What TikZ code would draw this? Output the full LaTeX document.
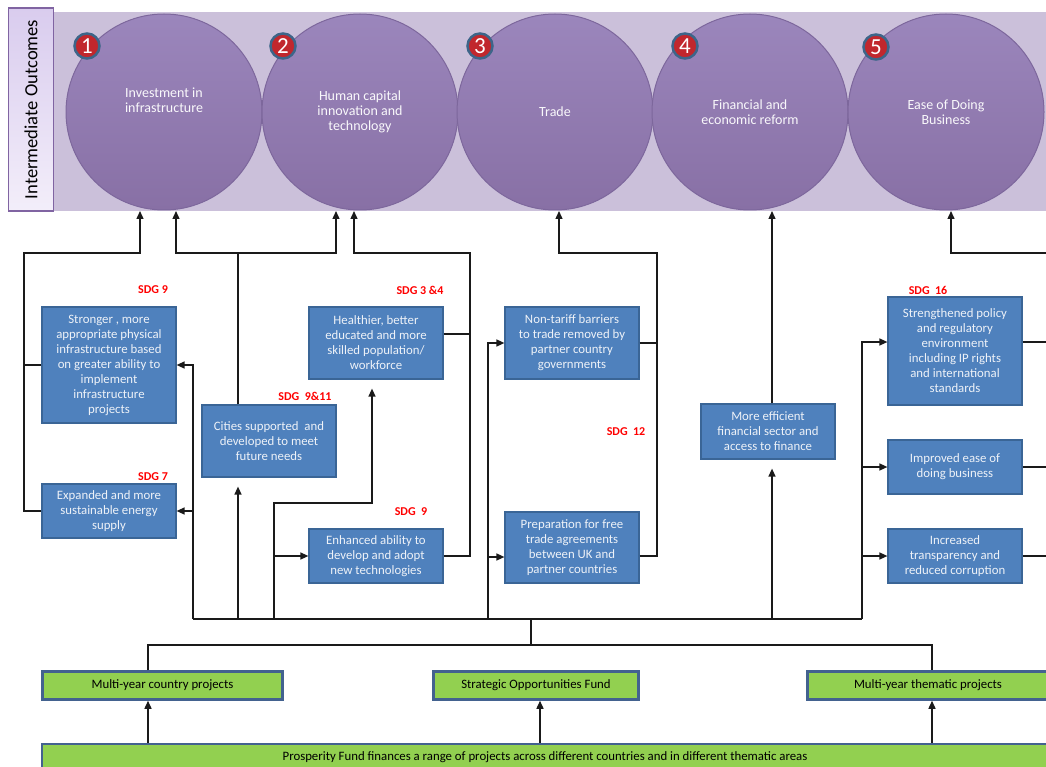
\documentclass[tikz,border=0pt]{standalone}
\usepackage{fontspec}
\setmainfont{Carlito}
\usetikzlibrary{arrows.meta}
\definecolor{band}{HTML}{CBC0DA}
\definecolor{circtop}{HTML}{9B86BC}
\definecolor{circbot}{HTML}{8870A5}
\definecolor{circbord}{HTML}{7D679C}
\definecolor{badgered}{HTML}{C1272D}
\definecolor{badgebord}{HTML}{3D6589}
\definecolor{lbltop}{HTML}{F3EEFA}
\definecolor{lblbot}{HTML}{D9CCEE}
\definecolor{lblbord}{HTML}{8064A2}
\definecolor{bluefill}{HTML}{4F81BD}
\definecolor{bluebord}{HTML}{3A6596}
\definecolor{bluetext}{HTML}{EEF2F8}
\definecolor{greenfill}{HTML}{92D050}
\definecolor{greenbord}{HTML}{43628F}
\definecolor{sdgred}{HTML}{FF0000}
\definecolor{linecol}{HTML}{1A1A1A}
\tikzset{
 outcome/.style={circle, draw=circbord, line width=1pt, top color=circtop, bottom color=circbot, minimum size=196pt, inner sep=0pt, text=white!94!circtop, align=center, font=\fontsize{14}{15}\selectfont},
 outtext/.style={text=white!94!circtop, align=center, font=\fontsize{14}{15}\selectfont, inner sep=0pt},
 badge/.style={circle, fill=badgered, draw=badgebord, line width=2.5pt, minimum size=25pt, inner sep=0pt, text=white, font=\fontsize{23}{23}\selectfont},
 bluebox/.style={rectangle, draw=bluebord, line width=1.2pt, fill=bluefill, text=bluetext, align=center, font=\fontsize{12.8}{15}\selectfont, minimum width=134pt, inner sep=0pt},
 greenbox/.style={rectangle, draw=greenbord, line width=2.5pt, fill=greenfill, text=black, font=\fontsize{12.8}{14}\selectfont, minimum height=28pt, inner sep=0pt},
 sdg/.style={text=sdgred, font=\bfseries\fontsize{12}{14}\selectfont, inner sep=0pt},
 ln/.style={draw=linecol, line width=1.4pt},
 arr/.style={ln, -{Triangle[length=8pt,width=7pt]}},
}
\begin{document}
\begin{tikzpicture}[x=1pt,y=-1pt]
\useasboundingbox (0,0) rectangle (1046,767);
\clip (0,0) rectangle (1046,767);
% band of outcomes
\fill[band] (53,12) rectangle (1050,211);
\node[draw=lblbord, line width=1.6pt, rotate=90, top color=lblbot, bottom color=lbltop, minimum width=203pt, minimum height=45pt, inner sep=0pt, font=\fontsize{18.6}{20}\selectfont] (lbl) at (31,109.5) {Intermediate Outcomes};
% circles
\node[outcome] (c1) at (164,112) {};
\node[outcome] (c2) at (360,112) {Human capital\\innovation and\\technology};
\node[outcome] (c3) at (555,112) {Trade};
\node[outcome] (c4) at (750,112) {Financial and\\economic reform};
\node[outcome] (c5) at (946,112) {Ease of Doing\\Business};
\node[outtext] (c1t) at (164,100) {Investment in\\infrastructure};
% badges
\node[badge] (n1) at (87,46) {1};
\node[badge] (n2) at (283,46) {2};
\node[badge] (n3) at (480,46) {3};
\node[badge] (n4) at (685,46) {4};
\node[badge] (n5) at (876,47) {5};
% SDG labels
\node[sdg] (s1) at (153,290) {SDG 9};
\node[sdg] (s2) at (420,290) {SDG 3 \&4};
\node[sdg] (s3) at (305,396) {SDG\ \ 9\&11};
\node[sdg] (s4) at (153,477) {SDG 7};
\node[sdg] (s5) at (411,512) {SDG\ \ 9};
\node[sdg] (s6) at (626,432) {SDG\ \ 12};
\node[sdg] (s7) at (928,290) {SDG\ \ 16};
% blue boxes
\node[bluebox, minimum height=116pt] (strong) at (109,365) {Stronger , more\\appropriate physical\\infrastructure based\\on greater ability to\\implement\\infrastructure\\projects};
\node[bluebox, minimum height=54pt] (energy) at (109,511) {Expanded and more\\sustainable energy\\supply};
\node[bluebox, minimum height=72pt] (cities) at (269,441) {Cities supported\ \ and\\developed to meet\\future needs};
\node[bluebox, minimum height=72pt] (health) at (376,343) {Healthier, better\\educated and more\\skilled population/\\workforce};
\node[bluebox, minimum height=54pt] (enhanced) at (376,556) {Enhanced ability to\\develop and adopt\\new technologies};
\node[bluebox, minimum height=72pt] (nontariff) at (572,343) {Non-tariff barriers\\to trade removed by\\partner country\\governments};
\node[bluebox, minimum height=71pt] (prep) at (572,547.5) {Preparation for free\\trade agreements\\between UK and\\partner countries};
\node[bluebox, minimum height=55pt] (finance) at (768,431.5) {More efficient\\financial sector and\\access to finance};
\node[bluebox, minimum height=108pt] (policy) at (955,351) {Strengthened policy\\and regulatory\\environment\\including IP rights\\and international\\standards};
\node[bluebox, minimum height=54pt] (ease) at (955,467) {Improved ease of\\doing business};
\node[bluebox, minimum height=54pt] (transp) at (955,556) {Increased\\transparency and\\reduced corruption};
% green boxes
\node[greenbox, minimum width=240pt] (g1) at (162.5,685.5) {Multi-year country projects};
\node[greenbox, minimum width=205pt] (g2) at (536,685.5) {Strategic Opportunities Fund};
\node[greenbox, minimum width=241pt] (g3) at (928,685.5) {Multi-year thematic projects};
\node[greenbox, minimum width=1006pt, minimum height=27pt] (pf) at (545,757.5) {Prosperity Fund finances a range of projects across different countries and in different thematic areas};
% junction coordinates
\coordinate (in1a) at (140,211);
\coordinate (in1b) at (176,211);
\coordinate (in2a) at (336,211);
\coordinate (in2b) at (354,211);
\coordinate (in3) at (559,211);
\coordinate (in4) at (772,211);
\coordinate (in5) at (951,211);
\coordinate (railL) at (24,253);
\coordinate (railH) at (470,253);
\coordinate (railT) at (657,253);
\coordinate (edgeR) at (1046,253);
\coordinate (busW) at (193,619);
\coordinate (busE) at (862,619);
\coordinate (busM) at (531,619);
\coordinate (kink) at (274,503);
\coordinate (trW) at (488,619);
\coordinate (splitL) at (148,645);
\coordinate (splitR) at (932,645);
% upward connectors to outcomes
\draw[arr] (energy.west) -| (railL) -| (in1a);
\draw[ln] (strong.west) -- (strong.west -| railL);
\draw[arr] ([xshift=-31pt]cities.north) |- (in1b |- railL) -- (in1b);
\draw[arr] ([xshift=-31pt]cities.north) |- (in2a |- railL) -- (in2a);
\draw[arr] (enhanced.east) -| (railH) -| (in2b);
\draw[ln] ([yshift=9pt]health.east) -- ([yshift=9pt]health.east -| railH);
\draw[arr] ([yshift=-8.5pt]prep.east) -| (railT) -| (in3);
\draw[ln] (nontariff.east) -- (nontariff.east -| railT);
\draw[arr] ([xshift=4pt]finance.north) -- (in4);
\draw[arr] (edgeR) -| (in5);
\draw[ln] ([yshift=9pt]policy.east) -- ([yshift=9pt]policy.east -| edgeR);
\draw[ln] (ease.east) -- (ease.east -| edgeR);
\draw[ln] (transp.east) -- (transp.east -| edgeR);
% bus from projects
\draw[ln] (busW) -- (busE);
\draw[arr] (busW) |- (strong.east);
\draw[arr] (energy.east -| busW) -- (energy.east);
\draw[arr] ([xshift=-31pt]cities.south |- busW) -- ([xshift=-31pt,yshift=-9pt]cities.south);
\draw[arr] (kink |- busW) -- (kink) -| ([xshift=-4pt,yshift=-9pt]health.south);
\draw[arr] (enhanced.west -| kink) -- (enhanced.west);
\draw[arr] (trW) |- (nontariff.west);
\draw[arr] ([yshift=-9.5pt]prep.west -| trW) -- ([yshift=-9.5pt]prep.west);
\draw[arr] ([xshift=4pt]finance.south |- busW) -- ([xshift=4pt,yshift=-9pt]finance.south);
\draw[arr] (busE) |- ([yshift=9pt]policy.west);
\draw[arr] (ease.west -| busE) -- (ease.west);
\draw[arr] (transp.west -| busE) -- (transp.west);
\draw[ln] (busM) -- (busM |- splitL);
\draw[ln] (splitL |- g1.north) -- (splitL) -- (splitR) -- (splitR |- g3.north);
\draw[arr] (splitL |- pf.north) -- (splitL |- g1.south);
\draw[arr] ([xshift=-5pt]pf.north) -- ([xshift=4pt]g2.south);
\draw[arr] (splitR |- pf.north) -- (splitR |- g3.south);
\end{tikzpicture}
\end{document}
